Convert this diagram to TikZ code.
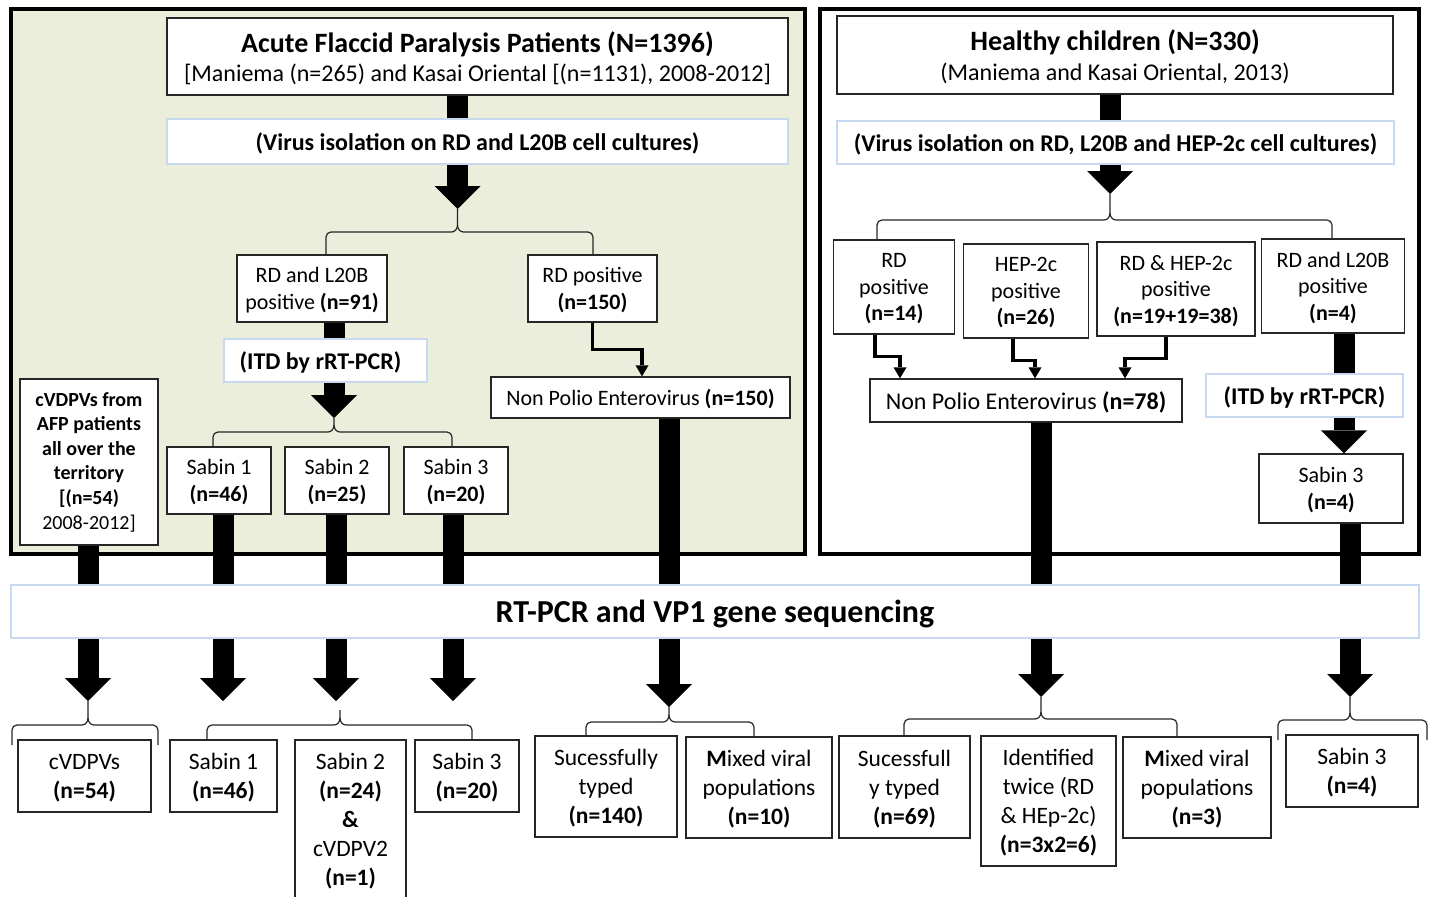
\documentclass[tikz,border=0pt]{standalone}
\usepackage{fontspec}
\setmainfont{Carlito}
\usetikzlibrary{arrows.meta,calc}
\definecolor{panelbg}{RGB}{234,238,219}
\definecolor{lblue}{RGB}{198,217,241}
\newcommand\fsR{\fontsize{22}{26.5}\selectfont}
\newcommand\fsS{\fontsize{24}{30}\selectfont}
\newcommand\fsL{\fontsize{24}{29}\selectfont}
\newcommand\fsQ{\fontsize{23.5}{29}\selectfont}
\newcommand\fsT{\fontsize{28}{30}\selectfont}
\newcommand\fsC{\fontsize{20}{24.6}\selectfont}
\newcommand\fsBig{\fontsize{32}{36}\selectfont}
\newcommand\mbr[7]{%
 \draw[brc] (#1) -- (#3,-#6-5) to[out=90,in=180] (#3+5,-#6) -- (#5-6,-#6) to[out=0,in=-90] (#5,-#6+7) -- (#7);
 \draw[brc] (#2) -- (#4,-#6-5) to[out=90,in=0] (#4-5,-#6) -- (#5+6,-#6) to[out=180,in=-90] (#5,-#6+7);}
\begin{document}
\begin{tikzpicture}[x=1pt,y=1pt,
 bx/.style={draw=black!85, line width=1.3pt, fill=white, inner sep=0pt, align=center, font=\fsR},
 box/.style={bx, text depth=0pt},
 obox/.style={box, font=\fsQ},
 lbox/.style={draw=lblue, line width=1.5pt, fill=white, inner sep=0pt, align=center, font=\fsL\bfseries, text depth=0pt},
 bar/.style={line width=21pt, line cap=butt},
 bigarrow/.style={line width=21pt, -{Triangle[width=46pt,length=23pt,line width=0pt 0 0]}},
 thinarrow/.style={line width=3.5pt, -{Triangle[width=13pt,length=11pt,line width=0pt 0 0]}},
 brc/.style={line width=1.2pt, black!85},
]
\useasboundingbox (0,0) rectangle (1430,-897);
% panels
\filldraw[fill=panelbg, draw=black, line width=3.5pt] (11,-9) rectangle (805,-554);
\draw[line width=3.5pt] (820,-9) rectangle (1419,-554);

% ---- left panel nodes
\node[box, minimum width=621pt, minimum height=77pt] (afp) at (477.5,-56.5)
 {{\fsT\bfseries Acute Flaccid Paralysis Patients (N=1396)}\\[3pt]{\fsS{[}Maniema (n=265) and Kasai Oriental {[}(n=1131), 2008-2012{]}}};
\node[lbox, minimum width=621pt, minimum height=45pt] (vir1) at (477.5,-141.5)
 {(Virus isolation on RD and L20B cell cultures)};
\node[box, minimum width=150pt, minimum height=67pt] (rdl) at (312,-288.5) {RD and L20B\\positive \textbf{(n=91)}};
\node[box, minimum width=129pt, minimum height=67pt] (rpos) at (592.5,-288.5) {RD positive\\\textbf{(n=150)}};
\node[lbox, minimum width=203pt, minimum height=43pt] (itd1) at (325.5,-360.5) {(ITD by rRT-PCR)\hspace*{10pt}};
\node[bx, minimum width=138pt, minimum height=166pt, font=\fsC\bfseries] (cv) at (89,-462)
 {cVDPVs from\\AFP patients\\all over the\\territory\\{[}(n=54)\\\mdseries 2008-2012{]}};
\node[box, minimum width=104pt, minimum height=67pt] (s1) at (219,-480.5) {Sabin 1\\\textbf{(n=46)}};
\node[box, minimum width=104pt, minimum height=67pt] (s2) at (337,-480.5) {Sabin 2\\\textbf{(n=25)}};
\node[box, minimum width=104pt, minimum height=67pt] (s3) at (456,-480.5) {Sabin 3\\\textbf{(n=20)}};
\node[box, minimum width=299pt, minimum height=41pt] (npev1) at (640.5,-397.5) {Non Polio Enterovirus \textbf{(n=150)}};

% ---- right panel nodes
\node[box, minimum width=556pt, minimum height=78pt] (hc) at (1115,-55)
 {{\fsT\bfseries Healthy children (N=330)}\\[3pt]{\fsS(Maniema and Kasai Oriental, 2013)}};
\node[lbox, minimum width=557pt, minimum height=43pt] (vir2) at (1115.5,-142.5)
 {(Virus isolation on RD, L20B and HEP-2c cell cultures)};
\node[box, minimum width=121pt, minimum height=94pt] (r1) at (894,-287) {RD\\positive\\\textbf{(n=14)}};
\node[box, minimum width=125pt, minimum height=94pt] (r2) at (1026,-291) {HEP-2c\\positive\\\textbf{(n=26)}};
\node[box, minimum width=158pt, minimum height=94pt] (r3) at (1176,-289) {RD \& HEP-2c\\positive\\\textbf{(n=19+19=38)}};
\node[box, minimum width=143pt, minimum height=94pt] (r4) at (1333,-286) {RD and L20B\\positive\\\textbf{(n=4)}};
\node[box, minimum width=312pt, minimum height=43pt, font=\fsS] (npev2) at (1026,-400.5) {Non Polio Enterovirus \textbf{(n=78)}};
\node[lbox, minimum width=197pt, minimum height=43pt] (itd2) at (1304.5,-395.5) {(ITD by rRT-PCR)};
\node[box, minimum width=144pt, minimum height=69pt] (s3r) at (1331,-488.5) {Sabin 3\\\textbf{(n=4)}};

% ---- big box
\node[lbox, minimum width=1408pt, minimum height=53pt, font=\fsBig\bfseries] (rt) at (715,-611.5) {RT-PCR and VP1 gene sequencing};

% ---- outcome boxes
\node[obox, minimum width=133pt, minimum height=72pt] (o1) at (84.5,-776) {cVDPVs\\\textbf{(n=54)}};
\node[obox, minimum width=107pt, minimum height=72pt] (o2) at (223.5,-776) {Sabin 1\\\textbf{(n=46)}};
\node[obox, minimum width=111pt, minimum height=159pt] (o3) at (350.5,-819.5) {Sabin 2\\\textbf{(n=24)}\\\textbf{\&}\\cVDPV2\\\textbf{(n=1)}};
\node[obox, minimum width=104pt, minimum height=72pt] (o4) at (467,-776) {Sabin 3\\\textbf{(n=20)}};
\node[obox, minimum width=142pt, minimum height=101pt] (o5) at (606,-786.5) {Sucessfully\\typed\\\textbf{(n=140)}};
\node[obox, minimum width=146pt, minimum height=101pt] (o6) at (759,-787.5) {\textbf{M}ixed viral\\populations\\\textbf{(n=10)}};
\node[obox, minimum width=131pt, minimum height=102pt] (o7) at (904.5,-787) {Sucessfull\\y typed\\\textbf{(n=69)}};
\node[obox, minimum width=135pt, minimum height=130pt] (o8) at (1048.5,-801) {Identified\\twice (RD\\\& HEp-2c)\\\textbf{(n=3x2=6)}};
\node[obox, minimum width=148pt, minimum height=101pt] (o9) at (1197,-787.5) {\textbf{M}ixed viral\\populations\\\textbf{(n=3)}};
\node[obox, minimum width=132pt, minimum height=72pt] (o10) at (1352,-771) {Sabin 3\\\textbf{(n=4)}};

% ---- coordinates (arrow tips / columns)
\coordinate (c1) at (457.5,-209);
\coordinate (c2) at (334,-418);
\coordinate (c3) at (1110,-194);
\coordinate (c4) at (1344,0);
\coordinate (k1) at (88,-701);
\coordinate (k2) at (223,-701);
\coordinate (k3) at (336,-701);
\coordinate (k4) at (453,-701);
\coordinate (k5) at (669,-707);
\coordinate (k6) at (1041,-697);
\coordinate (k7) at (1350,-697);
\coordinate (kb) at (340,-710);

% ---- bars and big arrows, left
\draw[bar] (afp.south -| c1) -- (vir1.north -| c1);
\draw[bigarrow] (vir1.south -| c1) -- (c1);
\draw[bar] (rdl.south -| c2) -- (itd1.north -| c2);
\draw[bigarrow] (itd1.south -| c2) -- (c2);
\draw[thinarrow] (rpos.south) -- ++(0,-27) -| (npev1.north -| 642,0);
% right
\draw[bar] (hc.south -| c3) -- (vir2.north -| c3);
\draw[bigarrow] (vir2.south -| c3) -- (c3);
\draw[thinarrow] (r1.south -| 875,0) -- ++(0,-22) -| (npev2.north -| 900,0);
\draw[thinarrow] (r2.south -| 1013,0) -- ++(0,-22) -| (npev2.north -| 1035,0);
\draw[thinarrow] (r3.south -| 1166,0) -- ++(0,-22) -| (npev2.north -| 1125,0);
\draw[bar] (r4.south -| c4) -- (itd2.north -| c4);
\draw[bigarrow] (itd2.south -| c4) -- (s3r.north -| c4);
% down to sequencing
\draw[bar] (cv.south -| k1) -- (rt.north -| k1);
\draw[bar] (s1.south -| k2) -- (rt.north -| k2);
\draw[bar] (s2.south -| k3) -- (rt.north -| k3);
\draw[bar] (s3.south -| k4) -- (rt.north -| k4);
\draw[bar] (npev1.south -| k5) -- (rt.north -| k5);
\draw[bar] (npev2.south -| k6) -- (rt.north -| k6);
\draw[bar] (s3r.south -| k7) -- (rt.north -| k7);
% below sequencing
\draw[bigarrow] (rt.south -| k1) -- (k1);
\draw[bigarrow] (rt.south -| k2) -- (k2);
\draw[bigarrow] (rt.south -| k3) -- (k3);
\draw[bigarrow] (rt.south -| k4) -- (k4);
\draw[bigarrow] (rt.south -| k5) -- (k5);
\draw[bigarrow] (rt.south -| k6) -- (k6);
\draw[bigarrow] (rt.south -| k7) -- (k7);

% ---- braces
\mbr{rdl.north -| 326,0}{rpos.north -| 593,0}{326}{593}{457.5}{232}{c1}
\mbr{s1.north -| 213,0}{s3.north -| 452,0}{213}{452}{334}{432}{c2}
\mbr{r1.north -| 877,0}{r4.north -| 1332,0}{877}{1332}{1110}{220}{c3}
\mbr{12,-745}{158,-745}{12}{158}{88}{725}{k1}
\mbr{o2.north -| 207,0}{o4.north -| 472,0}{207}{472}{340}{725}{kb}
\mbr{o5.north -| 586,0}{o6.north -| 754,0}{586}{754}{669}{722}{k5}
\mbr{o7.north -| 904,0}{o9.north -| 1177,0}{904}{1177}{1041}{719}{k6}
\mbr{1278,-740}{1427,-740}{1278}{1427}{1350}{720}{k7}
\end{tikzpicture}
\end{document}
